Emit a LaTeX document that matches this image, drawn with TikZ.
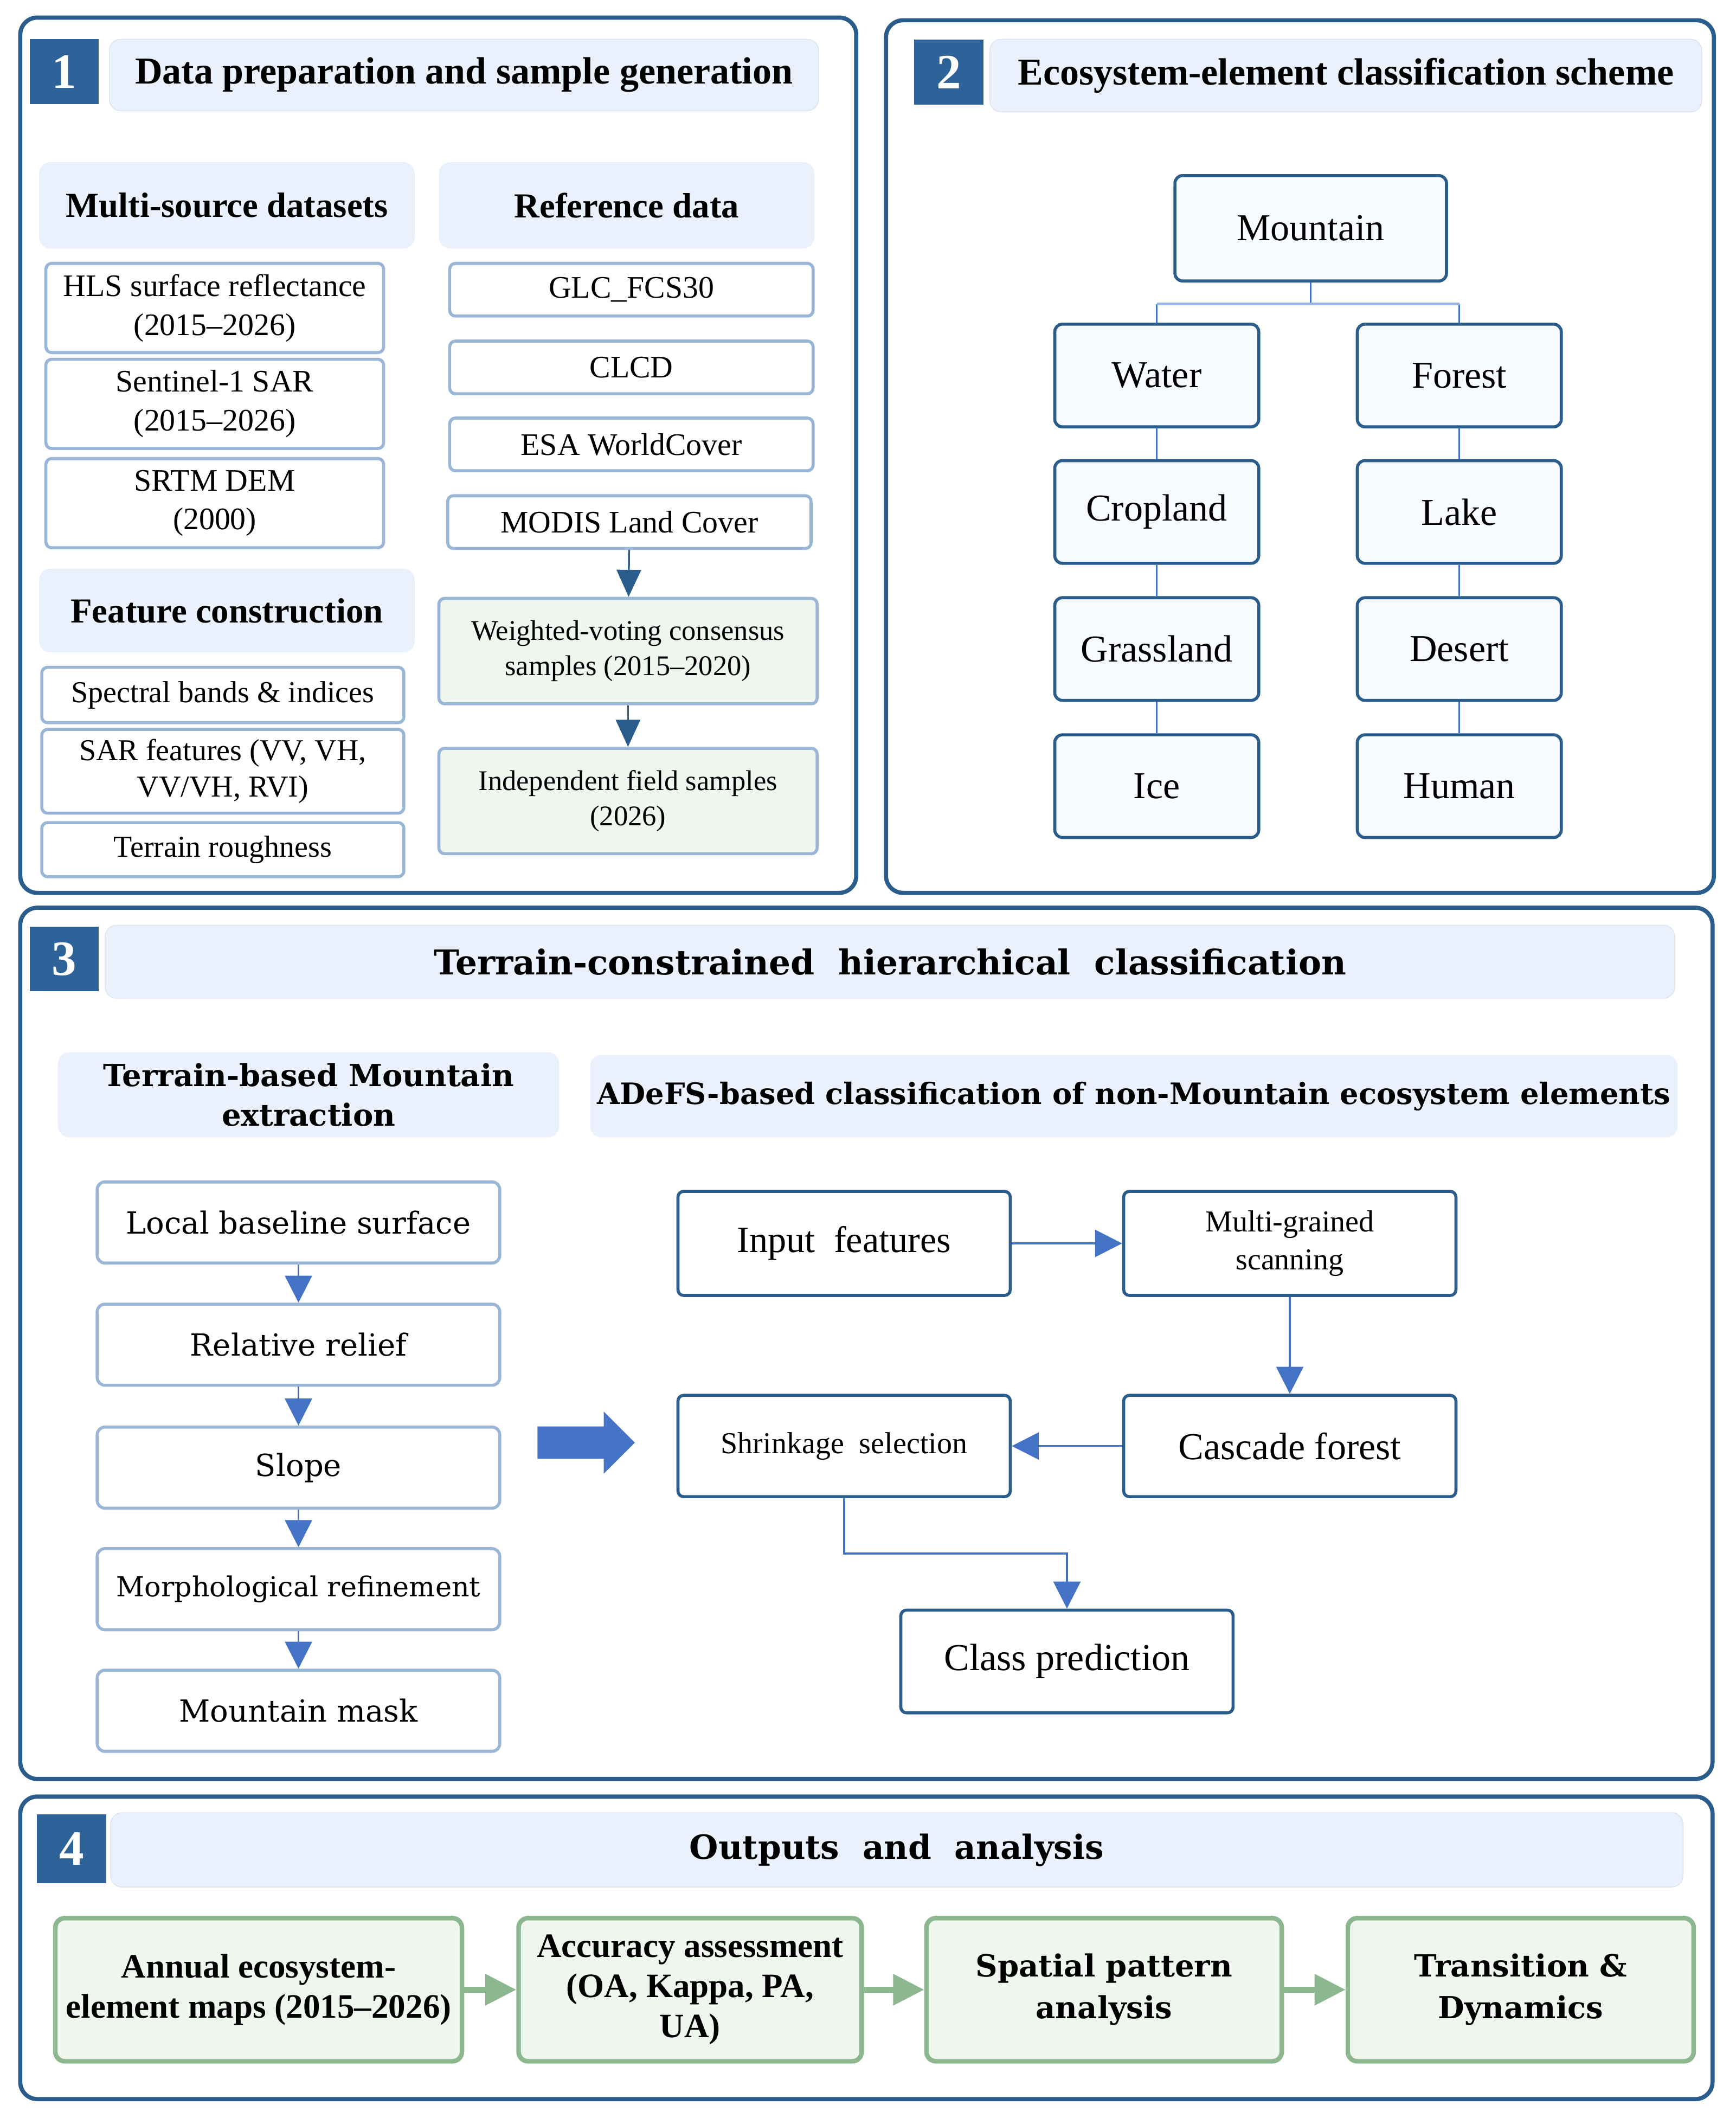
\documentclass[tikz,border=0pt]{standalone}
\usepackage{fontspec}
\setmainfont{Liberation Serif}
\newfontfamily\wideserif{DejaVu Serif}
\usepackage{xcolor}
\usetikzlibrary{arrows.meta,positioning,calc}

\definecolor{frameblue}{HTML}{2B5D8C}
\definecolor{badgeblue}{HTML}{2E6399}
\definecolor{titlefill}{HTML}{EAF1FD}
\definecolor{titleline}{HTML}{DCE4EF}
\definecolor{boxline}{HTML}{9AB6D6}
\definecolor{samplefill}{HTML}{EEF6EF}
\definecolor{treefill}{HTML}{F7FAFE}
\definecolor{flowblue}{HTML}{4472C4}
\definecolor{branchblue}{HTML}{9DB6E0}
\definecolor{outline}{HTML}{8DB88F}
\definecolor{outfill}{HTML}{EEF6EE}

\begin{document}
\begin{tikzpicture}[
      x=0.025cm, y=-0.025cm,
      panel/.style={draw=frameblue, line width=2.2pt, rounded corners=9pt},
      badge/.style={fill=badgeblue, text=white, minimum width=1.275cm, minimum height=1.2cm,
                    inner sep=0pt, font=\fontsize{26}{30}\selectfont\bfseries},
      titlebar/.style={fill=titlefill, draw=titleline, line width=0.4pt, rounded corners=6pt,
                       inner sep=0pt, font=\fontsize{20}{24}\selectfont\bfseries},
      head/.style={fill=titlefill, rounded corners=6pt, align=center, inner sep=0pt,
                   minimum width=6.95cm, font=\fontsize{18.5}{22}\selectfont\bfseries},
      src/.style={draw=boxline, line width=1.6pt, rounded corners=3pt, fill=white, align=center,
                  inner sep=0pt, minimum width=6.25cm, minimum height=1.65cm,
                  font=\fontsize{16.5}{20.5}\selectfont},
      refbox/.style={src, minimum width=6.725cm, minimum height=0.975cm},
      feat/.style={src, minimum width=6.7cm, font=\fontsize{16}{19}\selectfont},
      sample/.style={src, fill=samplefill, minimum width=7cm, minimum height=1.95cm,
                     font=\fontsize{15}{18.5}\selectfont},
      darkflow/.style={->, draw=frameblue, line width=1pt,
                       >={Triangle[length=0.5cm,width=0.45cm]}},
      eco/.style={draw=frameblue, line width=1.6pt, rounded corners=4pt, fill=treefill,
                  minimum width=3.775cm, minimum height=1.9cm, inner sep=0pt,
                  font=\fontsize{20}{24}\selectfont},
      treeline/.style={draw=flowblue, line width=0.8pt},
      branchline/.style={draw=branchblue, line width=1.6pt},
      terr/.style={draw=boxline, line width=1.6pt, rounded corners=4pt, fill=white,
                   minimum width=7.45cm, minimum height=1.5cm, inner sep=0pt,
                   font=\fontsize{16}{20}\selectfont\wideserif},
      adefs/.style={draw=frameblue, line width=1.6pt, rounded corners=3pt, fill=white,
                    minimum width=6.15cm, minimum height=1.925cm, align=center, inner sep=0pt,
                    font=\fontsize{20}{24}\selectfont},
      flow/.style={->, draw=flowblue, line width=1pt,
                   >={Triangle[length=0.5cm,width=0.5cm]}},
      outbox/.style={draw=outline, line width=2.4pt, rounded corners=5pt, fill=outfill,
                     minimum height=2.65cm, align=center, inner sep=0pt,
                     font=\fontsize{18}{21}\selectfont\bfseries},
      outarrow/.style={->, draw=outline, line width=3pt,
                       >={Triangle[length=0.575cm,width=0.56cm]}},
    ]
    \useasboundingbox (0,0) rectangle (1285,1568);

    % 1 data preparation
    \draw[panel] (15,13) rectangle (634,661);
    \node[badge] (badgeA) at (47.5,53) {1};
    \node[titlebar, minimum width=13.125cm, minimum height=1.325cm] (titleA) at (343.5,55.5) {Data preparation and sample generation};

    \node[head, minimum height=1.6cm] (multisrc) at (168,152) {Multi-source datasets};
    \node[head, minimum height=1.6cm] (refdata)  at (464,152) {Reference data};
    \node[src] (hls)  at (159,228)   {HLS surface reflectance\\(2015--2026)};
    \node[src] (sent) at (159,299)   {Sentinel-1 SAR\\(2015--2026)};
    \node[src] (srtm) at (159,372.5) {SRTM DEM\\(2000)};
    \node[refbox] (glc)   at (467.5,214.5) {GLC\_FCS30};
    \node[refbox] (clcd)  at (467.5,272)   {CLCD};
    \node[refbox] (esa)   at (467.5,329)   {ESA WorldCover};
    \node[refbox] (modis) at (466,386.5)   {MODIS Land Cover};

    \node[head, minimum height=1.55cm] (featcon) at (168,452) {Feature construction};
    \node[feat, minimum height=1.025cm] (spectral) at (165,514.5) {Spectral bands \& indices};
    \node[feat, minimum height=1.55cm]  (sarfeat)  at (165,571)   {SAR features (VV, VH,\\VV/VH, RVI)};
    \node[feat, minimum height=1cm]     (rough)    at (165,629)   {Terrain roughness};
    \node[sample] (weighted) at (465,482) {Weighted-voting consensus\\samples (2015--2020)};
    \node[sample] (fieldsmp) at (465,593) {Independent field samples\\(2026)};

    \draw[darkflow] (modis) -- (weighted);
    \draw[darkflow] (weighted) -- (fieldsmp);

    % 2 classification scheme
    \draw[panel] (656,15) rectangle (1269,661);
    \node[badge] (badgeB) at (702.5,53.5) {2};
    \node[titlebar, minimum width=13.175cm, minimum height=1.35cm] (titleB) at (996.5,56) {Ecosystem-element classification scheme};

    \node[eco, minimum width=5.025cm, minimum height=1.95cm] (mountain) at (970.5,169) {Mountain};
    \node[eco] (water)     at (856.5,278)   {Water};
    \node[eco] (cropland)  at (856.5,379)   {Cropland};
    \node[eco] (grassland) at (856.5,480.5) {Grassland};
    \node[eco] (ice)       at (856.5,582)   {Ice};
    \node[eco] (forest)    at (1080.5,278)   {Forest};
    \node[eco] (lake)      at (1080.5,379)   {Lake};
    \node[eco] (desert)    at (1080.5,480.5) {Desert};
    \node[eco] (human)     at (1080.5,582)   {Human};

    \coordinate (split) at (970.5,225);
    \draw[treeline] (mountain.south) -- (split);
    \draw[treeline] (water.north |- split) -- (water.north);
    \draw[treeline] (forest.north |- split) -- (forest.north);
    \draw[branchline] (water.north |- split) -- (forest.north |- split);
    \draw[treeline] (water.south) -- (cropland.north);
    \draw[treeline] (cropland.south) -- (grassland.north);
    \draw[treeline] (grassland.south) -- (ice.north);
    \draw[treeline] (forest.south) -- (lake.north);
    \draw[treeline] (lake.south) -- (desert.north);
    \draw[treeline] (desert.south) -- (human.north);

    % 3 hierarchical classification
    \draw[panel] (15,672) rectangle (1268,1317);
    \node[badge] (badgeC) at (47.5,710) {3};
    \node[titlebar, minimum width=29.05cm, minimum height=1.35cm,
          font=\fontsize{18}{22}\selectfont\wideserif\bfseries] (titleC) at (659,712)
          {Terrain-constrained\ \ hierarchical\ \ classification};

    \node[head, minimum width=9.275cm, minimum height=1.575cm,
          font=\fontsize{16}{21}\selectfont\wideserif\bfseries] (mtnhead) at (228.5,810.5) {Terrain-based Mountain\\extraction};
    \node[head, minimum width=20.125cm, minimum height=1.525cm,
          font=\fontsize{15.5}{20}\selectfont\wideserif\bfseries] (adefshead) at (839.5,811.5) {ADeFS-based classification of non-Mountain ecosystem elements};

    \node[terr] (baseline) at (221,905)    {Local baseline surface};
    \node[terr] (relief)   at (221,995.5)  {Relative relief};
    \node[terr] (slope)    at (221,1086.5) {Slope};
    \node[terr, font=\fontsize{14.5}{18}\selectfont\wideserif] (morph) at (221,1176.5) {Morphological refinement};
    \node[terr] (mtnmask)  at (221,1266.5) {Mountain mask};

    \draw[flow] (baseline) -- (relief);
    \draw[flow] (relief) -- (slope);
    \draw[flow] (slope) -- (morph);
    \draw[flow] (morph) -- (mtnmask);

    \fill[flowblue] (398,1056) -- (447,1056) -- (447,1045) -- (470,1068)
                    -- (447,1091) -- (447,1080) -- (398,1080) -- cycle;

    \node[adefs, font=\fontsize{19.5}{23}\selectfont] (input) at (625,920.5) {Input\ \ features};
    \node[adefs, font=\fontsize{16}{20}\selectfont] (multi)  at (955,920.5) {Multi-grained\\scanning};
    \node[adefs, minimum height=1.875cm, font=\fontsize{16}{20}\selectfont] (shrink) at (625,1070.5) {Shrinkage\ \ selection};
    \node[adefs, minimum height=1.875cm] (cascade) at (955,1070.5) {Cascade forest};
    \node[adefs, minimum height=1.9cm]   (predict) at (790,1230)   {Class prediction};

    \draw[flow] (input) -- (multi);
    \draw[flow] (multi) -- (cascade);
    \draw[flow] (cascade) -- (shrink);
    \draw[flow] (shrink.south) -- ++(0,41) -| (predict.north);

    % 4 outputs
    \draw[panel] (15,1330) rectangle (1268,1554);
    \node[badge, minimum height=1.275cm] (badgeD) at (53,1368.5) {4};
    \node[titlebar, minimum width=29.1cm, minimum height=1.375cm,
          font=\fontsize{17.5}{22}\selectfont\wideserif\bfseries] (titleD) at (664,1369.5) {Outputs\ \ and\ \ analysis};

    \node[outbox, minimum width=7.525cm] (annual)   at (191.5,1473) {Annual ecosystem-\\element maps (2015--2026)};
    \node[outbox, minimum width=6.35cm]  (accuracy) at (511,1473)   {Accuracy assessment\\(OA, Kappa, PA,\\UA)};
    \node[outbox, minimum width=6.575cm, font=\fontsize{16}{22}\selectfont\wideserif\bfseries] (spatial) at (817.5,1473) {Spatial pattern\\analysis};
    \node[outbox, minimum width=6.4cm, font=\fontsize{16}{22}\selectfont\wideserif\bfseries]   (dynamics) at (1126,1473) {Transition \&\\Dynamics};

    \draw[outarrow] (annual) -- (accuracy);
    \draw[outarrow] (accuracy) -- (spatial);
    \draw[outarrow] (spatial) -- (dynamics);
\end{tikzpicture}
\end{document}
